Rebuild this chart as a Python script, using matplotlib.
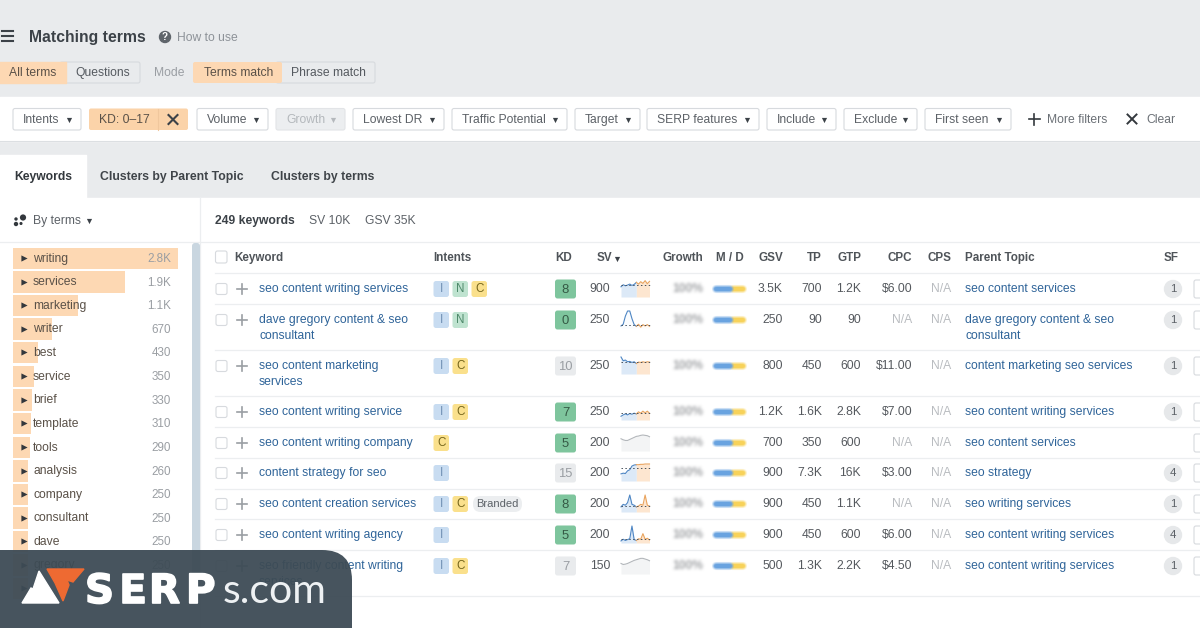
import numpy as np
import matplotlib
matplotlib.use("Agg")
import matplotlib.pyplot as plt
import matplotlib.patheffects as pe
from matplotlib.patches import FancyBboxPatch, Polygon, Circle, PathPatch
from matplotlib.path import Path

plt.rcParams['font.family'] = ['Liberation Sans', 'DejaVu Sans']

# sidebar terms
terms = ["writing", "services", "marketing", "writer", "best", "service", "brief",
         "template", "tools", "analysis", "company", "consultant", "dave", "gregory", ""]
term_counts = [2800, 1900, 1100, 670, 430, 350, 330, 310, 290, 260, 250, 250, 250, 250, 250]
term_labels = ["2.8K", "1.9K", "1.1K", "670", "430", "350", "330", "310", "290", "260",
               "250", "250", "250", "250", ""]

# table
keywords = [["seo content writing services"],
            ["dave gregory content & seo", "consultant"],
            ["seo content marketing", "services"],
            ["seo content writing service"],
            ["seo content writing company"],
            ["content strategy for seo"],
            ["seo content creation services"],
            ["seo content writing agency"],
            ["seo friendly content writing", "services"]]
intents = [["I", "N", "C"], ["I", "N"], ["I", "C"], ["I", "C"], ["C"], ["I"],
           ["I", "C"], ["I"], ["I", "C"]]
kd = [8, 0, 10, 7, 5, 15, 8, 5, 7]
kd_easy = [True, True, False, True, True, False, True, True, False]
sv = ["900", "250", "250", "250", "200", "200", "200", "200", "150"]
gsv = ["3.5K", "250", "800", "1.2K", "700", "900", "900", "900", "500"]
tp = ["700", "90", "450", "1.6K", "350", "7.3K", "450", "450", "1.3K"]
gtp = ["1.2K", "90", "600", "2.8K", "600", "16K", "1.1K", "600", "2.2K"]
cpc = ["$6.00", "N/A", "$11.00", "$7.00", "N/A", "$3.00", "N/A", "$6.00", "$4.50"]
parents = [["seo content services"],
           ["dave gregory content & seo", "consultant"],
           ["content marketing seo services"],
           ["seo content writing services"],
           ["seo content services"],
           ["seo strategy"],
           ["seo writing services"],
           ["seo content writing services"],
           ["seo content writing services"]]
sf = ["1", "1", "1", "1", "", "4", "1", "4", "1"]

# sparklines, 0 = bottom of the little box, 1 = top
spark = [[.60, .72, .66, .70, .76, .68, .74, .86, .76, .90, .80, .96, .78, .92],
         [.12, .22, .70, 1.0, 1.0, .55, .20, .10, .22, .05, .20, .12, .20, .10],
         [1.0, .78, .82, .72, .74, .68, .72, .62, .70, .68, .72, .68, .72, .70],
         [.22, .30, .36, .30, .38, .34, .40, .36, .48, .40, .52, .42, .52, .40],
         [.72, .66, .62, .62, .68, .74, .80, .86, .88, .92, .94, .92, .90, .84],
         [.42, .46, .44, .60, .66, .88, .94, .96, .96, .98, .98, 1.0, 1.0, 1.0],
         [.30, .45, .40, .55, 1.0, .45, .40, .30, .35, .45, .40, 1.0, .40, .35],
         [.12, .22, .15, .20, .25, 1.0, .20, .15, .25, .22, .55, .22, .28, .18],
         [.62, .56, .58, .62, .68, .74, .80, .84, .88, .92, .92, .88, .84, .78]]
spark_level = [.72, .20, .68, .40, None, .74, .36, .22, None]
spark_grey = [False, False, False, False, True, False, False, False, True]

filters = [("Intents", 13, 81), ("Volume", 197, 268), ("Lowest DR", 353, 444),
           ("Traffic Potential", 452, 567), ("Target", 575, 640),
           ("SERP features", 647, 759), ("Include", 767, 836), ("Exclude", 844, 917),
           ("First seen", 925, 1011)]

# logo letters and their left edges
logo_letters = ["S", "E", "R", "P"]
logo_x = [85, 119, 149, 186]

BG = "#e9ebed"
ORANGE = "#fdd8b3"
TXT = "#4a4f55"
MUTED = "#8d9298"
LINK = "#2f6499"
BORDER = "#d7dade"
BODY = 8.75
PX_PER_COUNT = 165 / 2800

row_y = [289, 320, 366, 412, 443, 473, 504, 535, 566]
row_lines = [273, 304, 350, 396, 427, 458, 489, 519, 550, 596]
term_y = [258.5, 282, 305.5, 329, 352.5, 376.5, 400, 423.5, 447.5, 471, 494.5, 518, 541.5, 565, 588.5]

fig = plt.figure(figsize=(12, 6.28), dpi=100)
ax = fig.add_axes([0, 0, 1, 1])
ax.set_xlim(0, 1200)
ax.set_ylim(628, 0)
ax.axis("off")


def blur(image, dpi, passes=3, pad=6):
    """agg_filter: box blur of the alpha only, for the censored Growth column and M/D bars."""
    img = np.pad(image, ((pad, pad), (pad, pad), (0, 0)))
    alpha = img[:, :, 3]
    peak = np.unravel_index(np.argmax(alpha), alpha.shape)
    img[:, :, :3] = img[peak[0], peak[1], :3]
    kernel = np.ones(3) / 3
    for _ in range(passes):
        for axis in (0, 1):
            alpha = np.apply_along_axis(lambda m: np.convolve(m, kernel, mode="same"), axis, alpha)
    img[:, :, 3] = alpha
    return img, -pad, -pad


def soft(image, dpi):
    return blur(image, dpi, passes=1)


def box(x0, y0, x1, y1, color, edge="none", r=2.5, z=2, lw=0.8):
    p = FancyBboxPatch((x0 + r, y0 + r), x1 - x0 - 2 * r, y1 - y0 - 2 * r,
                       boxstyle="round,pad=%g,rounding_size=%g" % (r, r),
                       facecolor=color, edgecolor=edge, linewidth=lw, zorder=z)
    ax.add_patch(p)


def label(x, y, s, color=TXT, size=BODY, ha="left", weight="normal", z=5):
    return ax.text(x, y + 0.8, s, color=color, fontsize=size, ha=ha, va="center",
                   fontweight=weight, zorder=z)


def caret(x, y, color="#444444", size=14, marker="v"):
    ax.scatter([x], [y], marker=marker, s=size, color=color, linewidths=0, zorder=5)


def cross(x, y, r, color, lw=1.5):
    ax.plot([x - r, x + r], [y - r, y + r], color=color, lw=lw, zorder=5)
    ax.plot([x - r, x + r], [y + r, y - r], color=color, lw=lw, zorder=5)


def plus(x, y, r, color, lw=1.2):
    ax.plot([x - r, x + r], [y, y], color=color, lw=lw, zorder=5)
    ax.plot([x, x], [y - r, y + r], color=color, lw=lw, zorder=5)


# page backgrounds
ax.fill_between([0, 1200], 0, 628, color=BG, zorder=0)
ax.fill_between([0, 1200], 97, 141, color="white", zorder=1)
ax.plot([0, 1200], [141, 141], color="#dcdfe2", lw=0.8, zorder=1)
ax.fill_between([0, 1200], 198, 628, color="white", zorder=1)
ax.fill_between([0, 86], 155, 198, color="white", zorder=1)

# title row
for y in [31, 36, 41]:
    ax.plot([2, 13], [y, y], color="#3c4248", lw=1.5, zorder=5)
label(29, 36.5, "Matching terms", color="#3c4248", size=11.3, weight="bold")
ax.add_patch(Circle((165, 37), 5.5, color="#5f656b", zorder=5))
label(165, 36.5, "?", color="white", size=7, ha="center", weight="bold")
label(177, 37, "How to use", color=MUTED)

# mode buttons
box(60, 62, 140, 83, BG, edge=BORDER, r=2)
ax.fill_between([-2, 66], 62, 83, color=ORANGE, zorder=3)
label(9, 72.5, "All terms", color="#5a5148")
label(75, 72.5, "Questions", color="#555a60")
label(154, 72.5, "Mode", color="#9a9ea3")
box(276, 62, 375, 83, BG, edge=BORDER, r=2)
box(193, 62, 282, 83, ORANGE, r=2, z=3)
label(204, 72.5, "Terms match", color="#5a5148")
label(291, 72.5, "Phrase match", color="#555a60")

# filter row
for name, x0, x1 in filters:
    box(x0, 108.5, x1, 130, "white", edge=BORDER, r=2)
    label(x0 + 10, 119, name, color="#5c6167")
    caret(x1 - 12, 120, color="#3c4248")
box(89, 108.5, 188, 130, "#fbd3a9", r=2)
ax.plot([158, 158], [108.5, 130], color="#f0c79d", lw=0.8, zorder=3)
label(99, 119, "KD: 0\u201317", color="#5a5148")
cross(173, 119.5, 4.5, "#3c4248")
box(276, 108.5, 345, 130, "#eceef0", edge="#e2e4e7", r=2)
label(286, 119, "Growth", color="#b4b8bc")
caret(333, 120, color="#b4b8bc")
plus(1034, 119, 5.5, "#33383d")
label(1047, 119, "More filters", color="#6b7076")
cross(1132, 119, 4.5, "#33383d", lw=1.4)
label(1146, 119, "Clear", color="#6b7076")

# tabs
label(14, 176.5, "Keywords", color="#33383d", size=8.7, weight="bold")
label(100, 176.5, "Clusters by Parent Topic", color="#3f4449", size=8.8, weight="bold")
label(271, 176.5, "Clusters by terms", color="#3f4449", size=8.8, weight="bold")

# sidebar
ax.scatter([16, 16, 23, 21], [219, 224, 217.5, 223.5], s=[6, 10, 20, 5], color="#33383d", zorder=5, linewidths=0)
label(33, 220.5, "By terms", color="#5c6167")
caret(89, 221, color="#3c4248")
ax.plot([200, 200], [198, 628], color="#eceef0", lw=0.9, zorder=2)
ax.plot([0, 1200], [242, 242], color="#eceef0", lw=0.9, zorder=2)
box(192, 243, 200, 600, "#c9d6e0", r=3)

# summary line over the table
label(215, 220.5, "249 keywords", color="#3c4248", size=8.7, weight="bold")
label(309, 220.5, "SV 10K", color="#5c6167")
label(365, 220.5, "GSV 35K", color="#5c6167")

for name, cnt, lab, y in zip(terms, term_counts, term_labels, term_y):
    ax.barh(y, cnt * PX_PER_COUNT, height=21.5, left=13, color=ORANGE, zorder=2)
    caret(24, y - 0.5, color="#33383d", size=20, marker=">")
    label(33, y - 0.5, name, color="#5a5148")
    label(171, y, lab, color="#9a9ea3", ha="right", size=8.4)

# table header
box(215.5, 251, 227, 263, "white", edge=BORDER, r=2)
hdr = "#4f5459"
label(234, 257, "Keyword", color=hdr, size=8.4, weight="bold")
label(433, 257, "Intents", color=hdr, size=8.4, weight="bold")
label(555, 257, "KD", color=hdr, size=8.4, weight="bold")
label(597, 257, "SV", color=hdr, size=8.4, weight="bold")
caret(617, 259, color="#3c4248")
label(703, 257, "Growth", color=hdr, size=8.4, ha="right", weight="bold")
label(744, 257, "M / D", color=hdr, size=8.4, ha="right", weight="bold")
label(783, 257, "GSV", color=hdr, size=8.4, ha="right", weight="bold")
label(822, 257, "TP", color=hdr, size=8.4, ha="right", weight="bold")
label(861, 257, "GTP", color=hdr, size=8.4, ha="right", weight="bold")
label(912, 257, "CPC", color=hdr, size=8.4, ha="right", weight="bold")
label(951, 257, "CPS", color=hdr, size=8.4, ha="right", weight="bold")
label(965, 257, "Parent Topic", color=hdr, size=8.4, weight="bold")
label(1164, 257, "SF", color=hdr, size=8.4, weight="bold")

for y in row_lines:
    ax.plot([215, 1200], [y, y], color="#eceef0", lw=0.9, zorder=2)

badge_col = {"I": ("#c8dcf1", "#6f8fb3"), "N": ("#bfe3d0", "#4f8a6b"), "C": ("#fae08c", "#75651c")}

for i, y in enumerate(row_y):
    box(216, y - 5.5, 227, y + 5.5, "white", edge=BORDER, r=2)
    plus(242, y, 5, "#9a9ea3")
    for j, line in enumerate(keywords[i]):
        label(259, y - 0.5 + j * 15.5, line, color=LINK)

    # intents
    for j, t in enumerate(intents[i]):
        x0 = 433.5 + 19 * j
        bg, fg = badge_col[t]
        box(x0, y - 8, x0 + 15.5, y + 8, bg, r=2.5)
        label(x0 + 7.8, y - 0.5, t, color=fg, size=8.4, ha="center")
    if i == 6:
        box(473, y - 8, 522, y + 8, "#eceef0", r=7.5)
        label(497.5, y - 0.5, "Branded", color="#5c6167", size=8, ha="center")

    # KD
    box(555, y - 9.5, 576, y + 9.5, "#7ec59d" if kd_easy[i] else "#e9ebed", r=2.5)
    label(565.5, y, str(kd[i]), color="#355a45" if kd_easy[i] else "#9a9ea3",
          ha="center", size=9.4)

    label(610, y - 0.5, sv[i], color="#55595e", ha="right")

    # sparkline
    vals = np.array(spark[i])
    n = len(vals)
    xs = np.linspace(621, 649.5, n)
    top, bottom = y - 9, y + 8
    ys = bottom - vals * (bottom - top)
    mid = n // 2
    if spark_grey[i]:
        ax.fill_between(xs, ys, bottom, color="#f3f4f5", lw=0, zorder=2)
        ax.plot(xs, ys, color="#b3b7bb", lw=0.8, zorder=3)
    else:
        fill_a = 0.12 if i == 1 else 1
        ax.fill_between(xs[:mid + 1], ys[:mid + 1], bottom, color="#dce9f7", lw=0, alpha=fill_a, zorder=2)
        ax.fill_between(xs[mid:], ys[mid:], bottom, color="#fde6d0", lw=0, alpha=fill_a, zorder=2)
        ax.plot(xs[:mid + 1], ys[:mid + 1], color="#4e86c4", lw=0.8, zorder=3)
        ax.plot(xs[mid:], ys[mid:], color="#e9a45f", lw=0.8, zorder=3)
        lvl = bottom - spark_level[i] * (bottom - top)
        ax.plot([621, 649.5], [lvl, lvl], color="#45505c", lw=0.7, ls=(0, (1.5, 2.5)), zorder=3)

    # blurred growth number
    gr = label(703, y - 0.5, "100%", color="#a4a6a9", ha="right", weight="bold")
    gr.set_agg_filter(blur)

    # M / D bar, blue on top of yellow
    yel, = ax.plot([733, 743], [y, y], color="#f7d25a", lw=4.4, solid_capstyle="round", zorder=3)
    blu, = ax.plot([716, 730], [y, y], color="#69a3e0", lw=4.4, solid_capstyle="round", zorder=3)
    yel.set_agg_filter(soft)
    blu.set_agg_filter(soft)

    label(783, y - 0.5, gsv[i], color="#55595e", ha="right")
    label(822, y - 0.5, tp[i], color="#55595e", ha="right")
    label(861, y - 0.5, gtp[i], color="#55595e", ha="right")
    label(912, y - 0.5, cpc[i], color="#b9bcc0" if cpc[i] == "N/A" else "#55595e", ha="right")
    label(951, y - 0.5, "N/A", color="#b9bcc0", ha="right")
    for j, line in enumerate(parents[i]):
        label(965, y - 0.5 + j * 15.5, line, color=LINK)
    if sf[i]:
        ax.add_patch(Circle((1173, y), 8.5, color="#e6e8ea", zorder=3))
        label(1173, y - 1, sf[i], color="#5c6167", size=8.2, ha="center")
    box(1194, y - 9, 1206, y + 9, "white", edge=BORDER, r=2)

# watermark panel with a rounded top right corner
k = 30
verts = [(0, 550), (352 - k, 550), (352, 550), (352, 550 + k), (352, 628), (0, 628), (0, 550)]
codes = [Path.MOVETO, Path.LINETO, Path.CURVE3, Path.CURVE3, Path.LINETO, Path.LINETO, Path.CLOSEPOLY]
ax.add_patch(PathPatch(Path(verts, codes), facecolor="#3d4b55", edgecolor="none", alpha=0.95, zorder=8))
ax.add_patch(Polygon([(22, 603), (31, 588), (33, 589), (39, 571), (59, 603)], closed=True, color="white", zorder=9))
ax.add_patch(Polygon([(47, 569), (84, 569), (73, 582), (67, 580), (69, 585), (63, 601), (55, 583)],
                     closed=True, color="#ee6a32", zorder=9))
for letter, x in zip(logo_letters, logo_x):
    t = ax.text(x, 603, letter, color="white", fontsize=29, fontweight="bold", family="DejaVu Sans",
                va="baseline", ha="left", zorder=9)
    t.set_path_effects([pe.withStroke(linewidth=1.2, foreground="white")])
ax.text(223, 603, "s.com", color="#eef1f3", fontsize=29.5, family="Lato",
        va="baseline", ha="left", zorder=9)

fig.savefig("out.png", dpi=100)
